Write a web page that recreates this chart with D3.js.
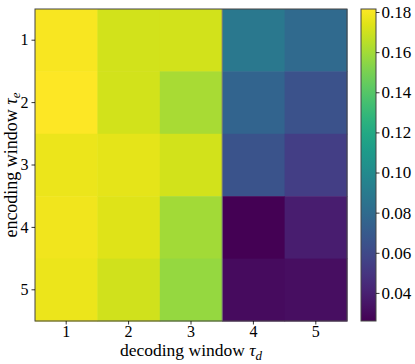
<!DOCTYPE html>
<html><head><meta charset="utf-8">
<script src="https://cdn.jsdelivr.net/npm/d3@7"></script>
<style>body{margin:0;background:#fff}svg{display:block}text{font-family:"Liberation Serif",serif;fill:#000}</style>
</head><body>
<svg id="c" width="415" height="364"></svg>
<script>
const decodingWindows = [1, 2, 3, 4, 5];
const encodingWindows = [1, 2, 3, 4, 5];
const row1 = [0.180, 0.1706, 0.1706, 0.0882, 0.0789];
const row2 = [0.1815, 0.1706, 0.161, 0.0758, 0.0649];
const row3 = [0.1768, 0.175, 0.1706, 0.066, 0.054];
const row4 = [0.178, 0.1737, 0.160, 0.026, 0.0384];
const row5 = [0.1768, 0.170, 0.1566, 0.0307, 0.032];
const rows = [row1, row2, row3, row4, row5];
const colorTicks = [0.04, 0.06, 0.08, 0.10, 0.12, 0.14, 0.16, 0.18];
const vMin = 0.026, vMax = 0.1815;

const svg = d3.select("#c");
const L = 35, R = 347, T = 9, B = 321;
const x = d3.scaleBand().domain(decodingWindows).range([L, R]);
const y = d3.scaleBand().domain(encodingWindows).range([T, B]);
const color = d3.scaleSequential(d3.interpolateViridis).domain([vMin, vMax]);
const FONT = '"Liberation Serif", "Times New Roman", serif';

const cells = [];
rows.forEach((r, i) => r.forEach((v, j) => cells.push({e: encodingWindows[i], d: decodingWindows[j], v})));
svg.append("g").selectAll("rect").data(cells).join("rect")
  .attr("x", c => x(c.d)).attr("y", c => y(c.e))
  .attr("width", x.bandwidth() + 0.5).attr("height", y.bandwidth() + 0.5)
  .attr("fill", c => color(c.v));

// separator line between tau_d 3 and 4
svg.append("line").attr("x1", x(4)).attr("x2", x(4)).attr("y1", T).attr("y2", B)
  .attr("stroke", "#777").attr("stroke-width", 1);

svg.append("rect").attr("x", L).attr("y", T).attr("width", R - L).attr("height", B - T)
  .attr("fill", "none").attr("stroke", "#444").attr("stroke-width", 1);

const xAxis = svg.append("g").attr("transform", `translate(0,${B})`)
  .call(d3.axisBottom(x).tickSize(3.5).tickPadding(1.5));
const yAxis = svg.append("g").attr("transform", `translate(${L},0)`)
  .call(d3.axisLeft(y).tickSize(3.5).tickPadding(3));
[xAxis, yAxis].forEach(a => {
  a.attr("font-family", FONT).attr("font-size", 16);
  a.select(".domain").remove();
  a.selectAll("line").attr("stroke", "#000").attr("stroke-width", 0.8);
  a.selectAll("text").attr("fill", "#000");
});

// colorbar
const cbL = 361, cbR = 376;
const cy = d3.scaleLinear().domain([vMin, vMax]).range([B, T]);
const defs = svg.append("defs");
const grad = defs.append("linearGradient").attr("id", "g").attr("x1", 0).attr("x2", 0).attr("y1", 1).attr("y2", 0);
d3.range(0, 1.0001, 0.05).forEach(t => grad.append("stop").attr("offset", t).attr("stop-color", d3.interpolateViridis(t)));
svg.append("rect").attr("x", cbL).attr("y", T).attr("width", cbR - cbL).attr("height", B - T)
  .attr("fill", "url(#g)").attr("stroke", "#444").attr("stroke-width", 1);
const cAxis = svg.append("g").attr("transform", `translate(${cbR},0)`)
  .call(d3.axisRight(cy).tickValues(colorTicks).tickFormat(d3.format(".2f")).tickSize(3.5).tickPadding(2));
cAxis.attr("font-family", FONT).attr("font-size", 17);
cAxis.select(".domain").remove();
cAxis.selectAll("line").attr("stroke", "#000").attr("stroke-width", 0.8);
cAxis.selectAll("text").attr("fill", "#000");

// axis labels
const xl = svg.append("text").attr("x", (L + R) / 2).attr("y", 356).attr("text-anchor", "middle")
  .attr("font-family", FONT).attr("font-size", 17.5);
xl.append("tspan").text("decoding window ");
xl.append("tspan").attr("font-style", "italic").text("τ");
xl.append("tspan").attr("dy", 4).attr("font-style", "italic").attr("font-size", 13).text("d");

const yl = svg.append("text").attr("transform", `translate(17,${(T + B) / 2}) rotate(-90)`).attr("text-anchor", "middle")
  .attr("font-family", FONT).attr("font-size", 18);
yl.append("tspan").text("encoding window ");
yl.append("tspan").attr("font-style", "italic").text("τ");
yl.append("tspan").attr("dy", 3).attr("font-style", "italic").attr("font-size", 13).text("e");
</script>
</body></html>
